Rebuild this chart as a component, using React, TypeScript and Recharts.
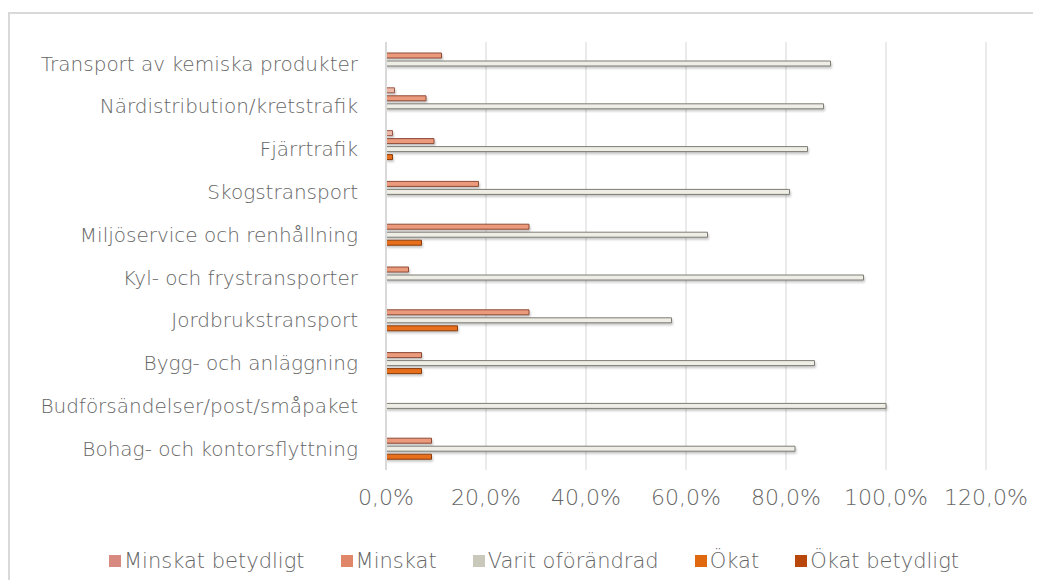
import { BarChart, Bar, XAxis, YAxis, CartesianGrid } from 'recharts';

const categories = [
  'Transport av kemiska produkter',
  'Närdistribution/kretstrafik',
  'Fjärrtrafik',
  'Skogstransport',
  'Miljöservice och renhållning',
  'Kyl- och frystransporter',
  'Jordbrukstransport',
  'Bygg- och anläggning',
  'Budförsändelser/post/småpaket',
  'Bohag- och kontorsflyttning',
];

const minskatBetydligt = [0, 1.7, 1.3, 0, 0, 0, 0, 0, 0, 0];
const minskat = [11.1, 8.0, 9.6, 18.5, 28.6, 4.5, 28.6, 7.1, 0, 9.1];
const oforandrad = [88.9, 87.5, 84.3, 80.7, 64.3, 95.5, 57.1, 85.7, 100, 81.8];
const okat = [0, 0, 1.3, 0, 7.1, 0, 14.3, 7.1, 0, 9.1];
const okatBetydligt = [0, 0, 0, 0, 0, 0, 0, 0, 0, 0];

const xTicks = [0, 20, 40, 60, 80, 100, 120];

const series = [
  { key: 'minskatBetydligt', name: 'Minskat betydligt', fill: '#efb9a8', stroke: '#9a5a4a' },
  { key: 'minskat', name: 'Minskat', fill: '#eb9a7c', stroke: '#8e4a36' },
  { key: 'oforandrad', name: 'Varit oförändrad', fill: '#eeede6', stroke: '#7d7d74' },
  { key: 'okat', name: 'Ökat', fill: '#e8701c', stroke: '#8a3c0a' },
  { key: 'okatBetydligt', name: 'Ökat betydligt', fill: '#c0500f', stroke: '#6e2a05' },
];

const legendColors = ['#d98a80', '#e0876a', '#c9c8bb', '#e0680f', '#b9470c'];

const data = categories.map((c, i) => ({
  name: c,
  minskatBetydligt: minskatBetydligt[i],
  minskat: minskat[i],
  oforandrad: oforandrad[i],
  okat: okat[i],
  okatBetydligt: okatBetydligt[i],
}));

const FONT = '"DejaVu Sans", sans-serif';
const TEXT = '#666666';
const fmt = (v: number) => `${v.toFixed(1).replace('.', ',')}%`;

export default function App() {
  return (
    <div style={{ position: 'relative', width: 1033, height: 572, overflow: 'hidden', fontFamily: FONT }}>
      <div
        style={{
          position: 'absolute',
          left: 0,
          top: 4,
          width: 1100,
          height: 700,
          border: '2px solid #d9d9d9',
          boxSizing: 'border-box',
        }}
      />
      <div style={{ position: 'absolute', left: 0, top: 0 }}>
        <BarChart
          width={1030}
          height={520}
          data={data}
          layout="vertical"
          barSize={5}
          barGap={3}
          margin={{ top: 34, right: 52, bottom: 28, left: 0 }}
        >
          <CartesianGrid horizontal={false} stroke="#dcdcdc" strokeWidth={1.2} />
          <XAxis
            type="number"
            domain={[0, 120]}
            ticks={xTicks}
            tickFormatter={fmt}
            axisLine={false}
            tickLine={false}
            tickMargin={13}
            tick={{ fontSize: 22, fill: TEXT, fontFamily: FONT, fontWeight: 200 }}
          />
          <YAxis
            type="category"
            dataKey="name"
            width={378}
            axisLine={{ stroke: '#d9d9d9', strokeWidth: 2 }}
            tickLine={false}
            tickMargin={22}
            tick={{ fontSize: 20, fill: TEXT, fontFamily: FONT, fontWeight: 200 }}
          />
          {series.map((s) => (
            <Bar
              key={s.key}
              dataKey={s.key}
              name={s.name}
              fill={s.fill}
              stroke={s.stroke}
              strokeWidth={1}
              style={{ filter: 'drop-shadow(1px 2px 1px rgba(0,0,0,0.22))' }}
              isAnimationActive={false}
            />
          ))}
        </BarChart>
      </div>
      <div
        style={{
          position: 'absolute',
          left: 101,
          top: 541,
          display: 'flex',
          alignItems: 'center',
          gap: 36,
          fontSize: 21,
          fontWeight: 200,
          color: TEXT,
          whiteSpace: 'nowrap',
        }}
      >
        {series.map((s, i) => (
          <div key={s.key} style={{ display: 'flex', alignItems: 'center' }}>
            <span
              style={{
                display: 'inline-block',
                width: 12,
                height: 12,
                marginRight: 3,
                background: legendColors[i],
              }}
            />
            {s.name}
          </div>
        ))}
      </div>
    </div>
  );
}
